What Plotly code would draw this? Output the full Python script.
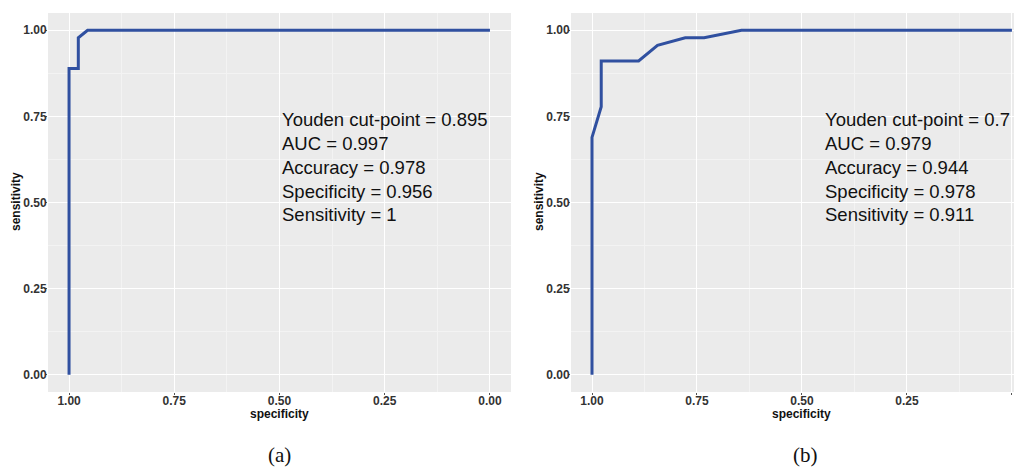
import plotly.graph_objects as go

# ROC curve (a)
spec_a = [1.0, 1.0, 0.978, 0.978, 0.956, 0.0]
sens_a = [0.0, 0.889, 0.889, 0.978, 1.0, 1.0]
# ROC curve (b)
spec_b = [1.0, 1.0, 0.978, 0.978, 0.889, 0.844, 0.778, 0.733, 0.644, 0.0]
sens_b = [0.0, 0.689, 0.778, 0.911, 0.911, 0.956, 0.978, 0.978, 1.0, 1.0]

stats_a = ["Youden cut-point = 0.895", "AUC = 0.997", "Accuracy = 0.978",
           "Specificity = 0.956", "Sensitivity = 1"]
stats_b = ["Youden cut-point = 0.7", "AUC = 0.979", "Accuracy = 0.944",
           "Specificity = 0.978", "Sensitivity = 0.911"]

tick_vals = [1.0, 0.75, 0.5, 0.25, 0.0]
tick_text = ["1.00", "0.75", "0.50", "0.25", "0.00"]
captions = ["(a)", "(b)"]

OFF = 8  # page body margin
W, H = 1022 - OFF, 468 - OFF
LINE = "#3050A0"


def px(X):
    return (X - OFF) / W


def py(Y):
    return 1 - (Y - OFF) / H


fig = go.Figure()
fig.add_trace(go.Scatter(x=spec_a, y=sens_a, mode="lines",
                         line=dict(color=LINE, width=3), xaxis="x", yaxis="y",
                         showlegend=False))
fig.add_trace(go.Scatter(x=spec_b, y=sens_b, mode="lines",
                         line=dict(color=LINE, width=3), xaxis="x2", yaxis="y2",
                         showlegend=False))

ydom = [py(392), py(13)]
common_ax = dict(
    tickvals=tick_vals, ticktext=tick_text, ticks="outside", ticklen=2,
    tickcolor="#555", tickwidth=1, automargin=False,
    tickfont=dict(family="Liberation Sans, Arial", size=12, color="#333333", weight="bold"),
    showgrid=True, gridcolor="white", gridwidth=1.2, zeroline=False, showline=False,
    minor=dict(showgrid=True, gridcolor="#F3F3F3", gridwidth=0.6,
               tickvals=[0.875, 0.625, 0.375, 0.125]),
)
xax = dict(common_ax, ticklabelstandoff=-4)
yax = dict(common_ax, ticklabelstandoff=-4)

fig.update_layout(
    width=W, height=H, margin=dict(l=0, r=0, t=0, b=0),
    paper_bgcolor="white", plot_bgcolor="#EBEBEB",
    xaxis=dict(domain=[px(48), px(511)], range=[1.05, -0.05], anchor="y", **xax),
    yaxis=dict(domain=ydom, range=[-0.05, 1.05], anchor="x", **yax),
    xaxis2=dict(domain=[px(571), 1.0], range=[1.05, -0.024], anchor="y2", **xax),
    yaxis2=dict(domain=ydom, range=[-0.05, 1.05], anchor="x2", **yax),
)

anns = []
stat_y = [0.741, 0.672, 0.602, 0.532, 0.465]
for xr, yr, x0, stats in [("x", "y", 0.5, stats_a), ("x2", "y2", 0.45, stats_b)]:
    for s, yv in zip(stats, stat_y):
        anns.append(dict(x=x0, y=yv, xref=xr, yref=yr, text=s, showarrow=False,
                         xanchor="left", yanchor="middle",
                         font=dict(family="Liberation Sans, Arial", size=18.5, color="#111111")))

# axis titles
for cx in [279.5, 801]:
    anns.append(dict(x=px(cx), y=py(414), xref="paper", yref="paper", text="specificity",
                     showarrow=False, xanchor="center", yanchor="middle",
                     font=dict(family="Liberation Sans, Arial", size=12, color="#111111", weight="bold")))
for cx in [16, 539]:
    anns.append(dict(x=px(cx), y=py(202), xref="paper", yref="paper", text="sensitivity",
                     showarrow=False, xanchor="center", yanchor="middle", textangle=-90,
                     font=dict(family="Liberation Sans, Arial", size=12, color="#111111", weight="bold")))
# captions
for cx, cap in zip([279, 805], captions):
    anns.append(dict(x=px(cx), y=py(455), xref="paper", yref="paper", text=cap,
                     showarrow=False, xanchor="center", yanchor="middle",
                     font=dict(family="Liberation Serif, Times New Roman", size=21, color="#111111")))

fig.update_layout(annotations=anns)
fig.write_html("out.html")
